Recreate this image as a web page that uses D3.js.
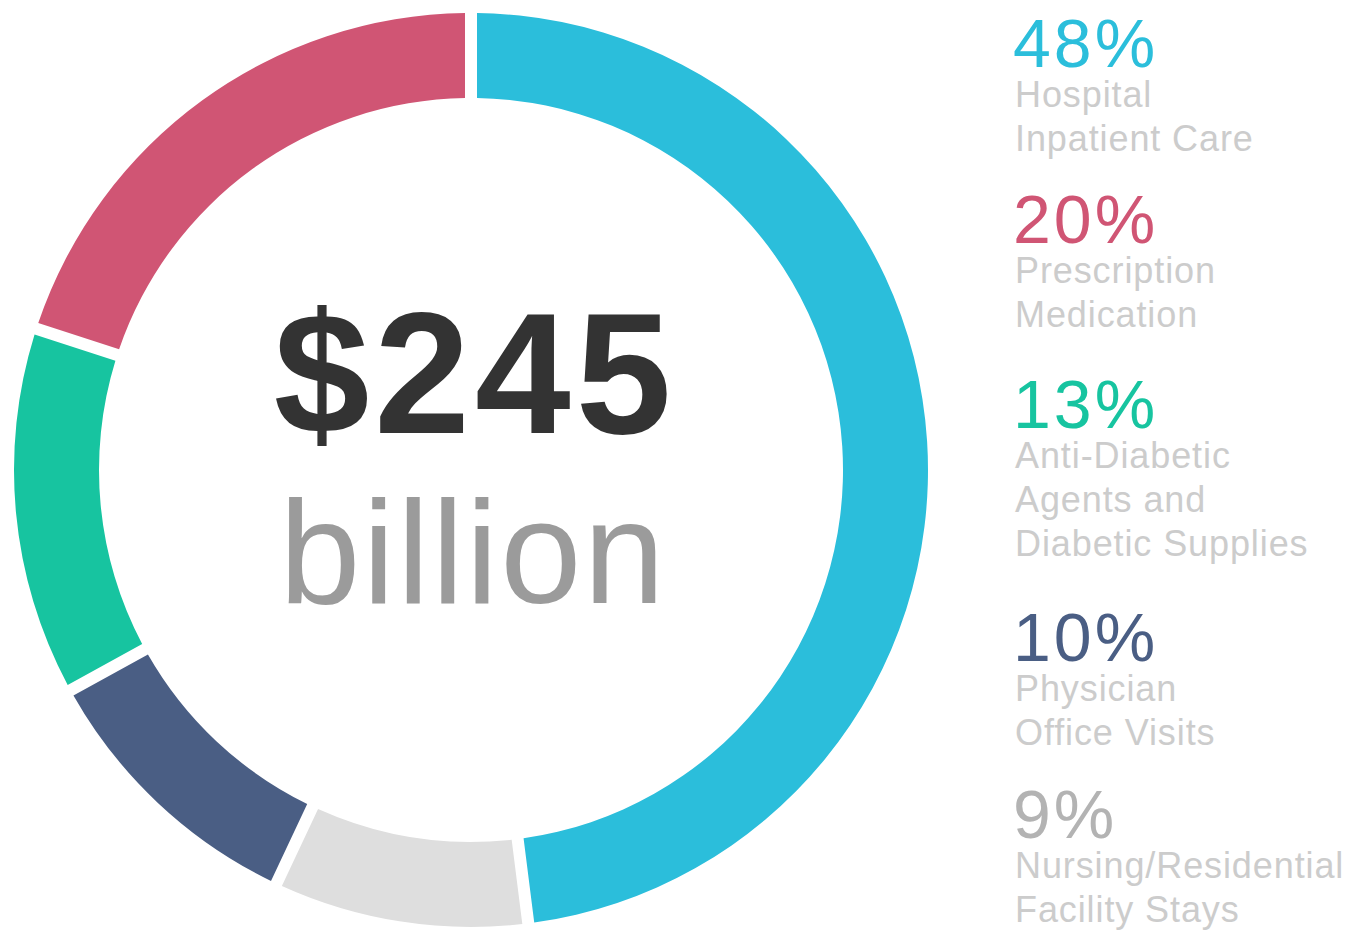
<!DOCTYPE html>
<html><head><meta charset="utf-8">
<script src="https://cdn.jsdelivr.net/npm/d3@7"></script>
<style>html,body{margin:0;padding:0;background:#fff;}svg{display:block;}</style>
</head><body>
<svg id="chart" width="1356" height="942"></svg>
<script>
// Data
const categories = ["Hospital Inpatient Care", "Nursing/Residential Facility Stays", "Physician Office Visits", "Anti-Diabetic Agents and Diabetic Supplies", "Prescription Medication"];
const values = [48, 9, 10, 13, 20];
const colors = ["#2bbedb", "#dedede", "#4a5e84", "#17c4a0", "#d05574"];
const pctColors = ["#2bbedb", "#b3b3b3", "#4a5e84", "#17c4a0", "#d05574"];
// Legend order (top to bottom) and wrapped label lines
const legendOrder = [0, 4, 3, 2, 1];
const labelLines = [
  ["Hospital", "Inpatient Care"],
  ["Nursing/Residential", "Facility Stays"],
  ["Physician", "Office Visits"],
  ["Anti-Diabetic", "Agents and", "Diabetic Supplies"],
  ["Prescription", "Medication"]
];
const totalLabel = "$245";
const unitLabel = "billion";

// Layout
const cx = 471, cy = 470, outerR = 457, innerR = 372, gap = 12;
const legendX = 1015;
const legendBaselines = [67, 243, 428, 661, 838];

const svg = d3.select("#chart");
const g = svg.append("g").attr("transform", `translate(${cx},${cy})`);

const pie = d3.pie().sort(null).value(d => d).startAngle(0).endAngle(2 * Math.PI);
const arc = d3.arc().innerRadius(innerR).outerRadius(outerR)
  .padAngle(gap / outerR).padRadius(outerR);

g.selectAll("path").data(pie(values)).join("path")
  .attr("d", arc)
  .attr("fill", (d, i) => colors[i]);

g.append("text").text(totalLabel)
  .attr("x", 4).attr("y", -37)
  .attr("text-anchor", "middle")
  .attr("font-family", "Liberation Sans, Arial, sans-serif")
  .attr("font-weight", "bold")
  .attr("font-size", 172)
  .attr("letter-spacing", 5)
  .attr("fill", "#333333");

g.append("text").text(unitLabel)
  .attr("x", 2).attr("y", 133)
  .attr("text-anchor", "middle")
  .attr("font-family", "Liberation Sans, Arial, sans-serif")
  .attr("font-size", 146)
  .attr("letter-spacing", 2)
  .attr("fill", "#9b9b9b");

const leg = svg.append("g");
legendOrder.forEach((idx, k) => {
  const y0 = legendBaselines[k];
  leg.append("text").text(values[idx] + "%")
    .attr("x", legendX - 2).attr("y", y0)
    .attr("font-family", "Liberation Sans, Arial, sans-serif")
    .attr("font-size", 68)
    .attr("letter-spacing", 3)
    .attr("fill", pctColors[idx]);
  labelLines[idx].forEach((line, j) => {
    leg.append("text").text(line)
      .attr("x", legendX).attr("y", y0 + 40 + j * 44)
      .attr("font-family", "Liberation Sans, Arial, sans-serif")
      .attr("font-size", 36)
      .attr("letter-spacing", 0.9)
      .attr("fill", "#cccccc");
  });
});
</script>
</body></html>
